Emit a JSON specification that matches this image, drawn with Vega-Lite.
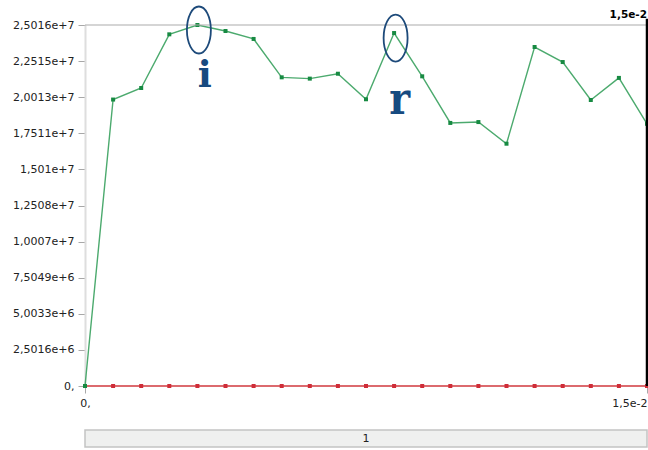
{
  "$schema": "https://vega.github.io/schema/vega-lite/v6.json",
  "background": "white",
  "padding": {"left": 12, "top": 2, "right": 0, "bottom": 0},
  "spacing": 21,
  "config": {"view": {"stroke": null}, "font": "DejaVu Sans"},
  "datasets": {
    "series": [
      {"x": 0, "value": 0, "series": "s2"},
      {"x": 0.00075, "value": 0, "series": "s2"},
      {"x": 0.0015, "value": 0, "series": "s2"},
      {"x": 0.00225, "value": 0, "series": "s2"},
      {"x": 0.003, "value": 0, "series": "s2"},
      {"x": 0.00375, "value": 0, "series": "s2"},
      {"x": 0.0045, "value": 0, "series": "s2"},
      {"x": 0.00525, "value": 0, "series": "s2"},
      {"x": 0.006, "value": 0, "series": "s2"},
      {"x": 0.00675, "value": 0, "series": "s2"},
      {"x": 0.0075, "value": 0, "series": "s2"},
      {"x": 0.00825, "value": 0, "series": "s2"},
      {"x": 0.009, "value": 0, "series": "s2"},
      {"x": 0.00975, "value": 0, "series": "s2"},
      {"x": 0.0105, "value": 0, "series": "s2"},
      {"x": 0.01125, "value": 0, "series": "s2"},
      {"x": 0.012, "value": 0, "series": "s2"},
      {"x": 0.01275, "value": 0, "series": "s2"},
      {"x": 0.0135, "value": 0, "series": "s2"},
      {"x": 0.01425, "value": 0, "series": "s2"},
      {"x": 0.015, "value": 0, "series": "s2"},
      {"x": 0, "value": 0, "series": "s1"},
      {"x": 0.00075, "value": 19850000, "series": "s1"},
      {"x": 0.0015, "value": 20650000, "series": "s1"},
      {"x": 0.00225, "value": 24370000, "series": "s1"},
      {"x": 0.003, "value": 25016400, "series": "s1"},
      {"x": 0.00375, "value": 24600000, "series": "s1"},
      {"x": 0.0045, "value": 24050000, "series": "s1"},
      {"x": 0.00525, "value": 21390000, "series": "s1"},
      {"x": 0.006, "value": 21300000, "series": "s1"},
      {"x": 0.00675, "value": 21640000, "series": "s1"},
      {"x": 0.0075, "value": 19870000, "series": "s1"},
      {"x": 0.00825, "value": 24460000, "series": "s1"},
      {"x": 0.009, "value": 21460000, "series": "s1"},
      {"x": 0.00975, "value": 18230000, "series": "s1"},
      {"x": 0.0105, "value": 18290000, "series": "s1"},
      {"x": 0.01125, "value": 16790000, "series": "s1"},
      {"x": 0.012, "value": 23490000, "series": "s1"},
      {"x": 0.01275, "value": 22450000, "series": "s1"},
      {"x": 0.0135, "value": 19820000, "series": "s1"},
      {"x": 0.01425, "value": 21350000, "series": "s1"},
      {"x": 0.015, "value": 18170000, "series": "s1"}
    ],
    "marks": [
      {"x": 0.003, "value": 25016400, "label": "i"},
      {"x": 0.00825, "value": 24460000, "label": "r"}
    ],
    "range": [
      {"start": 0, "end": 0.015, "label": "1"}
    ]
  },
  "vconcat": [
    {
      "width": 562,
      "height": 361,
      "data": {"name": "range"},
      "layer": [
        {
          "data": {"name": "series"},
          "transform": [{"filter": "datum.series == 's2'"}],
          "mark": {"type": "line", "color": "#dc6a6e", "strokeWidth": 2},
          "encoding": {
            "x": {
              "field": "x",
              "type": "quantitative",
              "scale": {"domain": [0, 0.015], "nice": false, "zero": false},
              "axis": {
                "title": null,
                "values": [0, 0.015],
                "tickCount": 4,
                "domain": false,
                "grid": false,
                "tickColor": "#a8a8a8",
                "tickSize": 7,
                "labelPadding": 4,
                "labelFont": "DejaVu Sans",
                "labelFontSize": 11,
                "labelColor": "#222222",
                "labelFlush": false,
                "labelOverlap": false,
                "labelAlign": {"condition": {"test": "datum.value == 0", "value": "center"}, "value": "right"},
                "labelExpr": "datum.value == 0 ? '0,' : replace(format(datum.value, '.2~e'), '.', ',')"
              }
            },
            "y": {
              "field": "value",
              "type": "quantitative",
              "scale": {"domain": [0, 25016400], "nice": false, "zero": true},
              "axis": {
                "title": null,
                "values": [0, 2501640, 5003280, 7504920, 10006560, 12508200, 15009840, 17511480, 20013120, 22514760, 25016400],
                "tickCount": 12,
                "grid": false,
                "domainColor": "#dedede",
                "domainWidth": 2,
                "tickColor": "#a8a8a8",
                "tickSize": 7,
                "labelPadding": 4,
                "labelOverlap": false,
                "labelFont": "DejaVu Sans",
                "labelFontSize": 11,
                "labelColor": "#222222",
                "labelExpr": "datum.value == 0 ? '0,' : replace(format(datum.value, '.4~e'), '.', ',')"
              }
            }
          }
        },
        {
          "data": {"name": "series"},
          "transform": [{"filter": "datum.series == 's2'"}],
          "mark": {"type": "point", "shape": "square", "filled": true, "size": 16, "opacity": 1, "color": "#cf2d38"},
          "encoding": {
            "x": {"field": "x", "type": "quantitative"},
            "y": {"field": "value", "type": "quantitative"}
          }
        },
        {
          "data": {"name": "series"},
          "transform": [{"filter": "datum.series == 's1'"}],
          "mark": {"type": "line", "color": "#4caa6e", "strokeWidth": 1.4},
          "encoding": {
            "x": {"field": "x", "type": "quantitative"},
            "y": {"field": "value", "type": "quantitative"}
          }
        },
        {
          "data": {"name": "series"},
          "transform": [{"filter": "datum.series == 's1'"}],
          "mark": {"type": "point", "shape": "square", "filled": true, "size": 16, "opacity": 1, "color": "#178a42"},
          "encoding": {
            "x": {"field": "x", "type": "quantitative"},
            "y": {"field": "value", "type": "quantitative"}
          }
        },
        {
          "mark": {"type": "rule", "color": "#ababab", "strokeWidth": 1.2},
          "encoding": {"y": {"datum": 25016400}}
        },
        {
          "mark": {"type": "rule", "color": "#000000", "strokeWidth": 2.5},
          "encoding": {"x": {"datum": 0.015}, "y": {"datum": 0}, "y2": {"datum": 25450000}}
        },
        {
          "mark": {"type": "text", "align": "right", "baseline": "alphabetic", "dy": -7, "fontSize": 10.5, "fontWeight": "bold", "font": "DejaVu Sans", "color": "#000000"},
          "encoding": {"x": {"datum": 0.015}, "y": {"datum": 25016400}, "text": {"value": "1,5e-2"}}
        },
        {
          "data": {"name": "marks"},
          "mark": {
            "type": "point",
            "shape": "M0,-1 C0.2817,-1 0.51,-0.5523 0.51,0 C0.51,0.5523 0.2817,1 0,1 C-0.2817,1 -0.51,0.5523 -0.51,0 C-0.51,-0.5523 -0.2817,-1 0,-1 Z",
            "size": 2209,
            "filled": false,
            "opacity": 1,
            "color": "#1d4a7a",
            "strokeWidth": 1.8,
            "xOffset": 1.5,
            "yOffset": 5
          },
          "encoding": {
            "x": {"field": "x", "type": "quantitative"},
            "y": {"field": "value", "type": "quantitative"}
          }
        },
        {
          "data": {"name": "marks"},
          "transform": [{"filter": "datum.label == 'i'"}],
          "mark": {"type": "text", "align": "center", "baseline": "alphabetic", "dx": 7.5, "dy": 62, "font": "DejaVu Serif", "fontWeight": "bold", "fontSize": 37, "color": "#174a80"},
          "encoding": {
            "x": {"field": "x", "type": "quantitative"},
            "y": {"field": "value", "type": "quantitative"},
            "text": {"field": "label"}
          }
        },
        {
          "data": {"name": "marks"},
          "transform": [{"filter": "datum.label == 'r'"}],
          "mark": {"type": "text", "align": "center", "baseline": "alphabetic", "dx": 5.5, "dy": 81, "font": "DejaVu Serif Condensed, DejaVu Serif", "fontWeight": "bold", "fontSize": 44, "color": "#174a80"},
          "encoding": {
            "x": {"field": "x", "type": "quantitative"},
            "y": {"field": "value", "type": "quantitative"},
            "text": {"field": "label"}
          }
        }
      ]
    },
    {
      "width": 562,
      "height": 17,
      "data": {"name": "range"},
      "layer": [
        {
          "mark": {"type": "rect", "fill": "#eff0ef", "stroke": "#c3c3c3", "strokeWidth": 1.5},
          "encoding": {
            "x": {"field": "start", "type": "quantitative", "scale": {"domain": [0, 0.015], "nice": false, "zero": false}, "axis": null},
            "x2": {"field": "end"}
          }
        },
        {
          "mark": {"type": "text", "align": "center", "baseline": "middle", "font": "DejaVu Sans", "fontSize": 11, "color": "#222222"},
          "encoding": {
            "x": {"datum": 0.0075},
            "text": {"field": "label"}
          }
        }
      ]
    }
  ]
}
